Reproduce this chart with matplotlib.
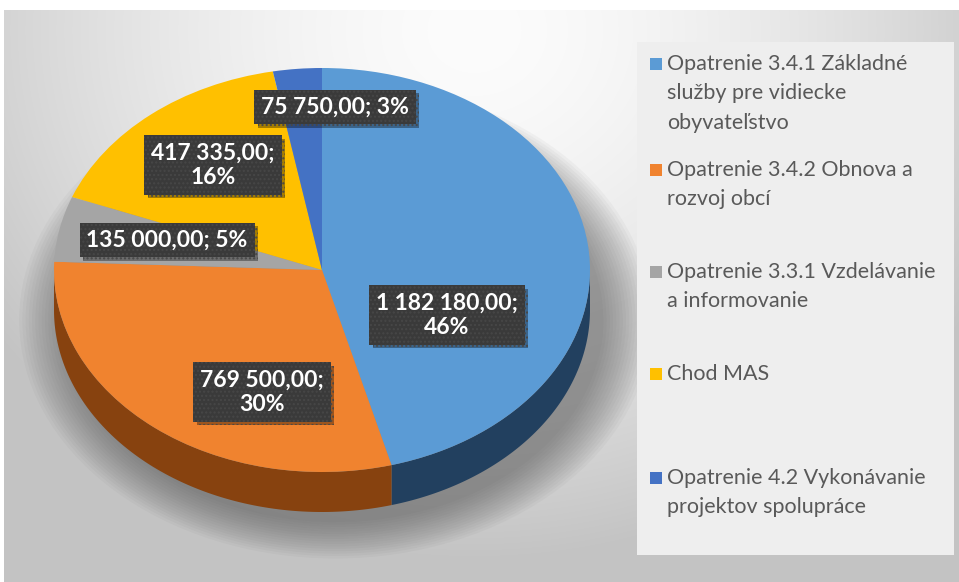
import numpy as np
import matplotlib
matplotlib.use("Agg")
import matplotlib.pyplot as plt
from matplotlib.patches import Polygon, Ellipse, Rectangle
from matplotlib import patheffects as pe

# ---- data ----
categories = [
    "Opatrenie 3.4.1 Základné\nslužby pre vidiecke\nobyvateľstvo",
    "Opatrenie 3.4.2 Obnova a\nrozvoj obcí",
    "Opatrenie 3.3.1 Vzdelávanie\na informovanie",
    "Chod MAS",
    "Opatrenie 4.2 Vykonávanie\nprojektov spolupráce",
]
values = [1182180.00, 769500.00, 135000.00, 417335.00, 75750.00]
top_colors = ["#5b9bd5", "#f0832f", "#a5a5a5", "#ffc000", "#4472c4"]
side_colors = ["#22405f", "#87420f", "#5a5a5a", "#8a6a00", "#263f6c"]
two_line = [True, True, False, True, False]

# ---- layout (pixels) ----
W, H = 959, 582
DPI = 100
cx, rx = 322, 268
top_y, ry, depth = 68, 202, 40
label_pos = [(447, 315), (262, 392), (167, 240), (213, 165), (335, 107)]
legend_y = [64, 170, 272, 374, 478]
line_h = 29.3

fig = plt.figure(figsize=(W / DPI, H / DPI), dpi=DPI)
fig.patch.set_facecolor("white")

# background gradient panel
bg = fig.add_axes([4 / W, 0, 1 - 4 / W, (H - 10) / H])
bg.set_axis_off()
yy, xx = np.mgrid[0:572, 0:955]
r = np.sqrt(((xx - 470) / 620.0) ** 2 + ((yy - 20) / 560.0) ** 2)
val = np.clip(252 - 62 * r ** 1.6, 195, 252) / 255.0
img = np.dstack([val, val, val])
bg.imshow(img, aspect="auto", extent=[0, 955, 572, 0])
bg.set_xlim(0, 955)
bg.set_ylim(572, 0)

# pie axes
d = depth / ry
pax = fig.add_axes([(cx - rx) / W, (H - (top_y + 2 * ry + depth)) / H,
                    2 * rx / W, (2 * ry + depth) / H])
pax.set_axis_off()

# shadow
for i in range(16):
    s = 1.0 + i * 0.012
    pax.add_patch(Ellipse((0.05, -d - 0.05), 2 * s, 2 * s, facecolor="#505050",
                          edgecolor="none", alpha=0.045, zorder=0, clip_on=False))

total = sum(values)
# side walls
start = 0.0
for v, sc in zip(values, side_colors):
    ang = v / total * 360.0
    a0, a1 = start, start + ang
    start = a1
    lo, hi = max(a0, 90.0), min(a1, 270.0)
    if hi <= lo:
        continue
    th = np.radians(np.linspace(lo, hi, 100))
    xs, ys = np.sin(th), np.cos(th)
    pts = np.concatenate([np.column_stack([xs, ys]),
                          np.column_stack([xs[::-1], ys[::-1] - d])])
    pax.add_patch(Polygon(pts, closed=True, facecolor=sc, edgecolor="none", zorder=1))

wedges, _ = pax.pie(values, colors=top_colors, startangle=90, counterclock=False,
                    radius=1, center=(0, 0), frame=False,
                    wedgeprops=dict(linewidth=0, zorder=2))
for w in wedges:
    w.set_zorder(2)
pax.set_aspect("auto")
pax.set_xlim(-1, 1)
pax.set_ylim(-1 - d, 1)

# overlay axes for labels & legend
ov = fig.add_axes([0, 0, 1, 1])
ov.set_xlim(0, W)
ov.set_ylim(H, 0)
ov.set_axis_off()
ov.patch.set_alpha(0)


def fmt(v):
    s = f"{v:,.2f}"
    return s.replace(",", " ").replace(".", ",")


for i, v in enumerate(values):
    pct = round(v / total * 100)
    sep = "\n" if two_line[i] else " "
    txt = f"{fmt(v)};{sep}{pct}%"
    x, y = label_pos[i]
    t = ov.text(x, y, txt, ha="center", va="center", fontsize=16.5, fontweight="bold",
                family=["Lato", "DejaVu Sans"], color="white", linespacing=1.2,
                bbox=dict(boxstyle="square,pad=0.3", facecolor="#3a3a3a",
                          edgecolor="#474747", linewidth=0, hatch="...."), zorder=6)
    t.get_bbox_patch().set_path_effects(
        [pe.SimplePatchShadow(offset=(2.5, -2.5), shadow_rgbFace="#000000", alpha=0.35),
         pe.Normal()])

# legend
ov.add_patch(Rectangle((637, 42), 317, 513, facecolor="#eeeeee", edgecolor="none",
                       zorder=3))
for i, (lab, col) in enumerate(zip(categories, top_colors)):
    y0 = legend_y[i]
    ov.add_patch(Rectangle((650, y0 - 6), 12, 12, facecolor=col, edgecolor="none",
                           zorder=4))
    for j, line in enumerate(lab.split("\n")):
        ov.text(667, y0 + j * line_h, line, ha="left", va="center", fontsize=15.5,
                family=["Lato", "DejaVu Sans"], color="#595959", zorder=4)

fig.savefig("out.png", dpi=DPI)
